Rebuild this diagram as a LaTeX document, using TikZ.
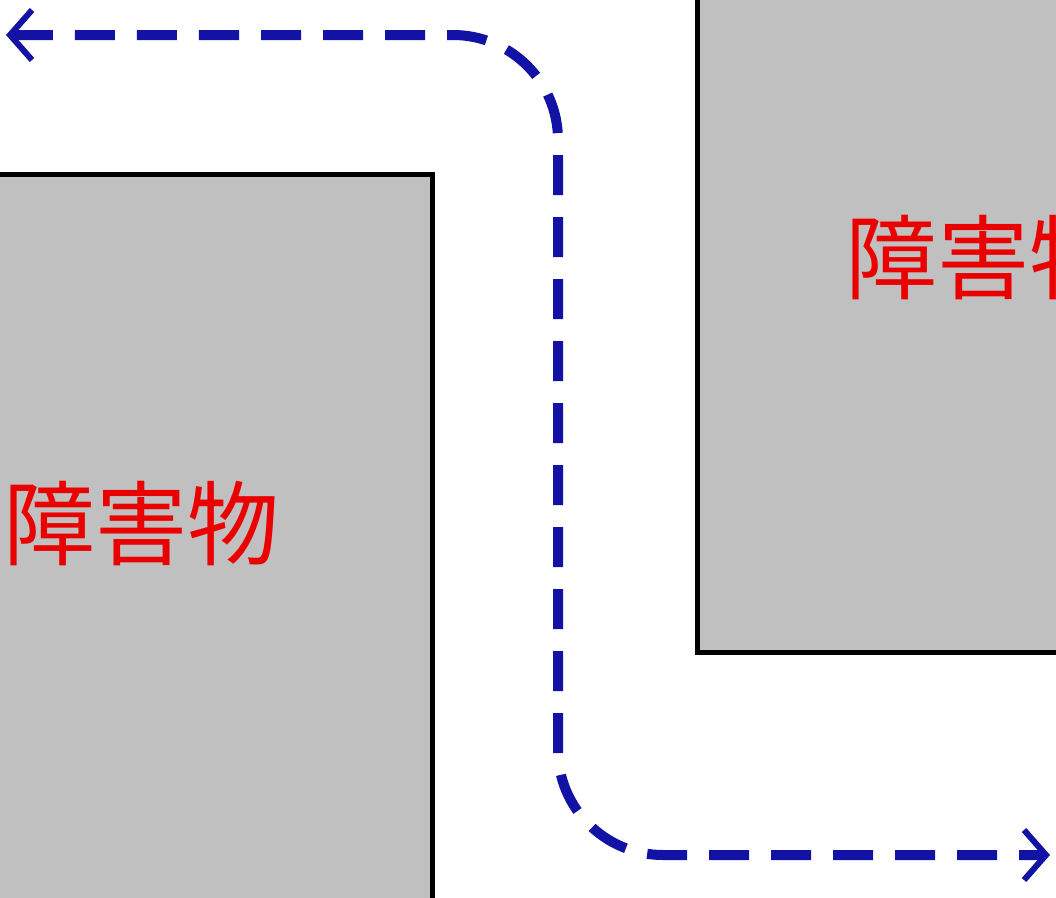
\documentclass[tikz,border=0pt]{standalone}
\usepackage{fontspec}
\newfontfamily\cjk{Noto Sans CJK JP}
\usetikzlibrary{arrows.meta}
\definecolor{obsgray}{RGB}{192,192,192}
\definecolor{pathblue}{RGB}{18,18,165}
\definecolor{labred}{RGB}{235,0,0}
\tikzset{
  obstacle/.style={draw=black, line width=5pt, fill=obsgray},
  obslabel/.style={text=labred, font=\cjk\fontsize{92}{92}\selectfont, inner sep=0pt, anchor=west},
  route/.style={draw=pathblue, line width=10pt, dash pattern=on 40pt off 22pt,
    rounded corners=105pt,
    arrows={Straight Barb[length=22pt,width=50pt,line width=6pt]-Straight Barb[length=22pt,width=50pt,line width=6pt]}}
}
\begin{document}
\begin{tikzpicture}[x=1pt,y=-1pt]
\useasboundingbox (0,0) rectangle (1056,897);
\clip (0,0) rectangle (1056,897);
\fill[white] (0,0) rectangle (1056,897);
\node[obstacle, minimum width=460pt, minimum height=740pt, anchor=north east, inner sep=0pt] (leftbox) at (435,172) {};
\node[obstacle, minimum width=400pt, minimum height=680pt, anchor=south west, inner sep=0pt] (rightbox) at (695,655) {};
\node[obslabel] (leftlabel) at (3,524) {障害物};
\node[obslabel] (rightlabel) at (845,258) {障害物};
\coordinate (start) at (6,35);
\coordinate (c1) at (558,35);
\coordinate (c2) at (558,855);
\coordinate (finish) at (1050,855);
\draw[route] (start) -- (c1) -- (c2) -- (finish);
\end{tikzpicture}
\end{document}
